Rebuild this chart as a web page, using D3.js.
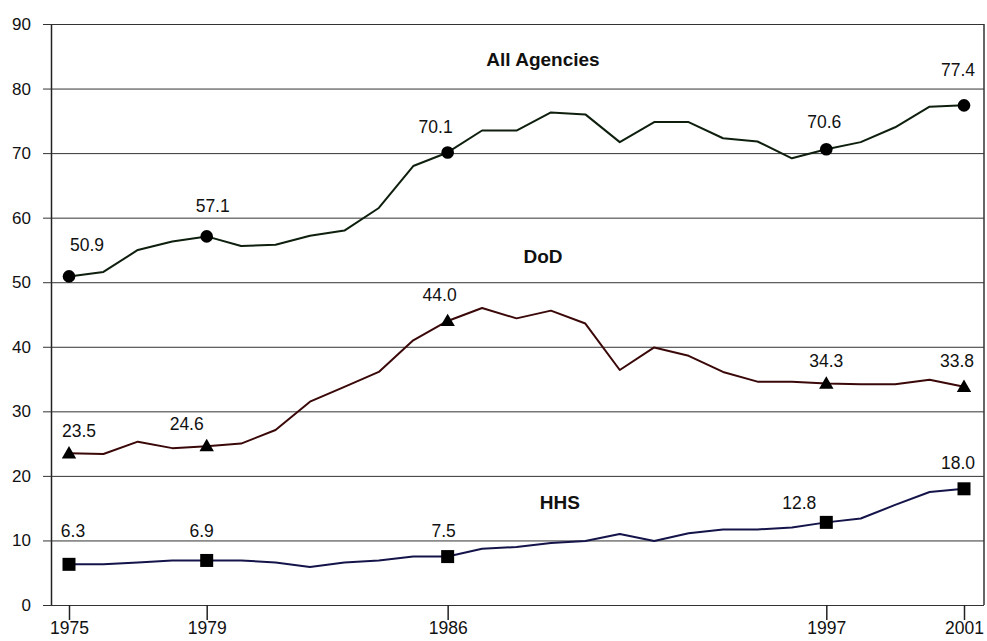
<!DOCTYPE html>
<html>
<head>
<meta charset="utf-8">
<script src="https://cdn.jsdelivr.net/npm/d3@7"></script>
<style>
  body { margin: 0; background: #fff; }
  svg { display: block; font-family: "Liberation Sans", Arial, sans-serif; }
</style>
</head>
<body>
<div id="chart"></div>
<script>
// data
const years = d3.range(1975, 2002);
const allAgencies = [50.9, 51.6, 55.0, 56.3, 57.1, 55.6, 55.8, 57.2, 58.0, 61.5, 68.0, 70.1, 73.5, 73.5,
  76.3, 76.0, 71.7, 74.8, 74.8, 72.3, 71.8, 69.2, 70.6, 71.7, 74.0, 77.2, 77.4];
const dod = [23.5, 23.4, 25.3, 24.3, 24.6, 25.0, 27.1, 31.5, 33.8, 36.1, 41.0, 44.0, 46.0, 44.4,
  45.6, 43.6, 36.4, 39.9, 38.6, 36.1, 34.6, 34.6, 34.3, 34.2, 34.2, 34.9, 33.8];
const hhs = [6.3, 6.3, 6.6, 6.9, 6.9, 6.9, 6.6, 5.9, 6.6, 6.9, 7.5, 7.5, 8.7, 9.0,
  9.6, 9.9, 11.0, 9.9, 11.1, 11.7, 11.7, 12.0, 12.8, 13.4, 15.5, 17.5, 18.0];
const markedYears = [1975, 1979, 1986, 1997, 2001];
const yTicks = [0, 10, 20, 30, 40, 50, 60, 70, 80, 90];
const seriesNames = ["All Agencies", "DoD", "HHS"];

const width = 987, height = 641;
const margin = {top: 24, right: 3, bottom: 36, left: 51};
const w = width - margin.left - margin.right;
const h = height - margin.top - margin.bottom;

const x = d3.scaleLinear().domain([1975, 2001]).range([18, 913]);
const y = d3.scaleLinear().domain([0, 90]).range([h, 0]);

const svg = d3.select("#chart").append("svg")
  .attr("width", width).attr("height", height);
const g = svg.append("g").attr("transform", `translate(${margin.left},${margin.top})`);

// y axis + gridlines
const yAxis = g.append("g")
  .call(d3.axisLeft(y).tickValues(yTicks).tickSizeInner(-w).tickSizeOuter(0).tickPadding(20));
yAxis.selectAll(".tick line").attr("x1", -8).attr("stroke", "#333");
yAxis.select(".domain").attr("stroke", "#222").attr("stroke-width", 1.5);
yAxis.selectAll("text").attr("font-size", 17).attr("fill", "#111")
  .attr("font-family", "'Liberation Sans', Arial, sans-serif");

// right border
g.append("line").attr("x1", w).attr("x2", w).attr("y1", 0).attr("y2", h)
  .attr("stroke", "#333").attr("stroke-width", 1.5);

// x axis
const xAxis = g.append("g").attr("transform", `translate(0,${h})`)
  .call(d3.axisBottom(x).tickValues(markedYears).tickFormat(d3.format("d"))
    .tickSizeInner(15).tickSizeOuter(0).tickPadding(2));
xAxis.select(".domain").remove();
xAxis.selectAll(".tick line").attr("stroke", "#222").attr("stroke-width", 1.5);
xAxis.selectAll("text").attr("font-size", 17.5).attr("fill", "#111")
  .attr("font-family", "'Liberation Sans', Arial, sans-serif");

const series = [
  {name: seriesNames[0], values: allAgencies, color: "#0e1f0e", symbol: d3.symbolCircle, size: 125,
   title: [1988.77, 83.5],
   nudge: [[18, -25], [6, -24], [-12, -19], [-2, -21], [-6, -29]]},
  {name: seriesNames[1], values: dod, color: "#3a0808", symbol: d3.symbolTriangle, size: 90,
   title: [1988.77, 53.0],
   nudge: [[10, -16], [-20, -16], [-8, -20], [0, -17], [-7, -20]]},
  {name: seriesNames[2], values: hhs, color: "#14144a", symbol: d3.symbolSquare, size: 169,
   title: [1989.26, 14.9],
   nudge: [[4, -27], [-5, -23], [-4, -20], [-27, -13], [-6, -20]]}
];

const line = d3.line().x((d, i) => x(years[i])).y(d => y(d));

series.forEach(s => {
  g.append("path").datum(s.values)
    .attr("fill", "none").attr("stroke", s.color).attr("stroke-width", 2)
    .attr("stroke-linejoin", "round")
    .attr("d", line);

  const marks = markedYears.map(yr => ({yr, v: s.values[years.indexOf(yr)]}));

  g.selectAll(null).data(marks).enter().append("path")
    .attr("d", d3.symbol().type(s.symbol).size(s.size))
    .attr("transform", d => `translate(${x(d.yr)},${y(d.v) + (s.symbol === d3.symbolTriangle ? 1 : 0)})`)
    .attr("fill", "#000");

  g.selectAll(null).data(marks).enter().append("text")
    .attr("x", (d, i) => x(d.yr) + s.nudge[i][0])
    .attr("y", (d, i) => y(d.v) + s.nudge[i][1])
    .attr("text-anchor", "middle")
    .attr("font-size", 17.5).attr("fill", "#111")
    .text(d => d3.format(".1f")(d.v));

  g.append("text")
    .attr("x", x(s.title[0])).attr("y", y(s.title[1]))
    .attr("text-anchor", "middle")
    .attr("font-size", 19).attr("font-weight", "bold").attr("fill", "#111")
    .text(s.name);
});
</script>
</body>
</html>
